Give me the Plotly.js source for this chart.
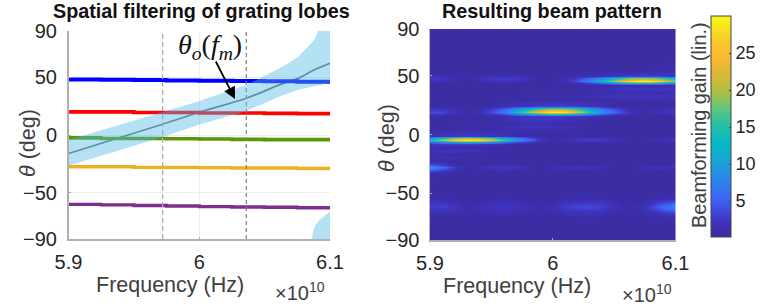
<!DOCTYPE html>
<html><head><meta charset="utf-8">
<script src="https://cdn.plot.ly/plotly-3.0.0.min.js"></script>
<style>html,body{margin:0;padding:0;background:#fff}#c{width:764px;height:306px}</style></head>
<body><div id="c"></div>
<script>
const stepFreq=[5.9,5.925,5.95,5.975,6,6.025,6.05,6.075,6.1];
const blueBeam=[48,47.8,47.6,47.2,47,46.8,46.5,46,46];
const redBeam=[20,20,19.5,19.5,19,19,18.7,18.5,18];
const greenBeam=[-2.5,-3,-3,-3.2,-3.5,-3.8,-4,-4,-4.7];
const orangeBeam=[-27.5,-27.5,-28,-28,-28.2,-28.5,-28.5,-29,-29.5];
const purpleBeam=[-60,-60.5,-61,-61.5,-62,-62.3,-62.5,-63,-63.2];
const centreFreq=[5.9,5.972,6,6.036,6.0628,6.0755,6.087,6.1];
const centreAngle=[-16,9.3,19.7,31.8,44,49,55.8,62];
const upperFreq=[5.9,5.972,5.999,6.0363,6.0628,6.0755,6.087,6.0895,6.0908,6.1];
const upperAngle=[-4.3,20,29,43.4,58.7,67.4,81,86,90,90];
const lowerFreq=[6.1,6.087,6.0755,6.0628,6.0363,5.999,5.972,5.9];
const lowerAngle=[45,42,39,34,20.8,8.7,-1.7,-26.6];
const wrapFreq=[6.086,6.0868,6.0885,6.0915,6.0947,6.1,6.1];
const wrapAngle=[-90,-85,-79,-74,-71,-66.5,-90];
const steerFreq=[5.972,6.036];
const fCols=[5.9,5.91,5.92,5.93,5.94,5.95,5.96,5.97,5.98,5.99,6,6.01,6.02,6.03,6.04,6.05,6.06,6.07,6.08,6.09,6.1];
const thetaRows=[-90,-76,-70,-66,-62,-58,-54,-44,-33,-30,-28,-26,-23,-20,-17,-14,-11,-8.5,-6.5,-4.5,-3,-1,1.5,4,7,10,13,15.5,17.5,19.5,21.5,24,27,30,33,36,39,42,44,46,48,50,52.5,55,60,65,72,80,90];
const gain=[
[.6,.6,.6,.6,.6,.6,.6,.6,.6,.6,.6,.6,.6,.6,.6,.6,.6,.6,.6,.6,.6],
[.7,.7,.7,.7,.7,.7,.7,.7,.7,.7,.7,.7,.7,.7,.7,.7,.7,.8,.9,.9,.9],
[.9,.9,.8,.7,.8,.9,.9,.9,.8,.7,.8,.9,.9,1,.9,.8,.7,.8,1,1.2,1.3],
[1.6,1.7,1.3,.8,1,1.4,1.6,1.4,1,.8,1,1.6,1.9,2,1.8,1.2,.8,1,1.8,2.8,3.6],
[3,3.2,2.4,1,1.6,2.4,2.6,2.4,1.6,1,1.6,2.9,3.5,3.7,3.2,2,1,1.4,3.2,5.8,8.2],
[2,2,1.5,.8,1.1,1.6,1.8,1.6,1.1,.8,1.1,1.9,2.3,2.4,2.1,1.3,.8,1,1.9,3.2,4.3],
[1,1,.9,.7,.8,.9,1,.9,.8,.7,.8,1,1.1,1.1,1,.8,.7,.8,.9,1.1,1.3],
[.7,.7,.7,.7,.7,.7,.7,.7,.7,.7,.7,.7,.7,.7,.7,.7,.7,.7,.7,.7,.7],
[1.2,1,.8,.7,.7,.7,.8,.7,.7,.7,.7,.7,.7,.7,.7,.7,.7,.7,.7,.7,.7],
[5,3.2,1.4,.7,.9,1.3,1.5,1.3,.9,.7,.9,1.1,1.2,1.1,.9,.7,.7,.8,1.1,1.2,1.1],
[9.5,6,2.6,1,1.5,2.4,2.8,2.5,1.5,1,1.5,2.2,2.4,2.2,1.5,1,.9,1.4,2,2.2,2],
[4.5,3,1.3,.7,.9,1.2,1.4,1.2,.9,.7,.9,1.1,1.2,1.1,.9,.7,.7,.8,1,1.1,1],
[.9,.9,.8,.7,.7,.7,.7,.7,.7,.7,.7,.7,.7,.7,.7,.7,.7,.7,.7,.7,.7],
[1.6,1.6,1.5,1.4,1.2,.9,.7,.7,.7,.7,.7,.7,.7,.7,.7,.7,.7,.7,.7,.7,.7],
[.8,.9,.9,.9,.8,.7,.7,.7,.7,.7,.7,.7,.7,.7,.7,.7,.7,.7,.7,.7,.7],
[1.8,1.9,1.9,1.8,1.6,1.1,.8,.7,.7,.7,.7,.7,.7,.7,.7,.7,.7,.7,.7,.7,.7],
[.8,1,1,1,.9,.8,.7,.7,.7,.7,.7,.7,.7,.7,.7,.7,.7,.7,.7,.7,.7],
[2.4,2.8,3,3,2.8,2.2,1.3,.9,.7,.7,.7,.7,.7,.7,.7,.7,.7,.7,.7,.7,.7],
[5,7.5,10,11,10.5,9,6,3.8,2.4,1.3,.8,.8,1,1.1,1,.8,.7,.7,.8,.9,1],
[13,20,27,29.5,28,24,16,10,6,2.6,1,1.5,2.6,3.2,3,2,1,.9,1.5,1.9,2],
[9,14,19,21,20,17,11.5,7.5,4.5,2,.9,1.2,2,2.4,2.2,1.5,.9,.8,1.2,1.5,1.6],
[1.6,2.2,2.6,2.8,2.7,2.3,1.6,1.1,.8,.7,.7,.7,.8,.9,.8,.7,.7,.7,.7,.8,.8],
[1.5,1.9,2.2,2.3,2.2,1.9,1.4,1,.8,.7,.7,.7,.7,.7,.7,.7,.7,.7,.7,.7,.7],
[.7,.8,.9,.9,.9,.9,1.2,1.3,1.3,1.2,1.1,1,.9,.7,.7,.7,.7,.7,.7,.7,.7],
[.8,.9,1,1,1,1,1.5,1.9,2.1,2.1,2,1.7,1.3,.9,.7,.7,.7,.7,.7,.7,.7],
[.7,.7,.7,.7,.7,.8,.9,1,1,1,1,.9,.8,.7,.7,.7,.7,.7,.7,.7,.7],
[.7,.7,.7,.8,.8,1,1.7,2.2,2.5,2.6,2.5,2.2,1.7,1.1,.8,.7,.7,.7,.7,.7,.7],
[1,.9,.8,.7,.7,1,1.3,1.8,2.2,2.6,2.8,2.7,2.3,1.7,1.2,.9,.7,.7,.7,.7,.8],
[2.4,2.2,1.4,.8,1.2,2.2,3.8,6.5,9.5,12.5,15,14,11.5,7.5,4.8,3,1.8,.9,.9,1.3,1.5],
[3.8,3.5,2,1,1.5,3.8,7,13,19,25,29.5,28,23,15,9,5.5,3,1.2,1.3,2.1,2.6],
[2.6,2.4,1.5,.8,1.2,2.6,5,9,13,17.5,20.5,19.5,16,10.5,6.5,4,2.2,1,1,1.5,1.9],
[.8,.8,.7,.7,.7,1,1.5,2,2.5,3,3.3,3.2,2.8,2.2,1.5,1,.8,.7,.7,.8,.8],
[.7,.7,.7,.7,.7,.8,1.1,1.5,1.8,2,2.2,2.1,1.9,1.6,1.1,.8,.7,.7,.7,.7,.7],
[.7,.7,.7,.7,.7,.7,.8,.8,.8,.9,.9,.9,.9,.9,1,1.1,1.2,1.3,1.3,1.2,1.2],
[.7,.7,.7,.7,.7,.7,.8,1.1,1.3,1.3,1.3,1.3,1.4,1.6,1.9,2.1,2.3,2.4,2.3,2.2,2],
[.7,.7,.7,.7,.7,.7,.7,.7,.7,.7,.8,.8,.8,.9,1.1,1.1,1.2,1.2,1.2,1.1,1],
[.7,.7,.7,.7,.7,.7,.7,.7,.7,.7,.7,.9,1,1.2,1.6,2,2.4,2.6,2.6,2.4,2.2],
[.7,.7,.7,.7,.7,.7,.7,.7,.7,.7,.7,.7,.8,.8,.9,1,1.1,1.2,1.2,1.1,1],
[.8,.8,.7,.7,.8,.9,1,.9,.8,.7,.8,1,1.7,3,5,7.5,10,11.5,11,9.5,7],
[2,1.8,1.1,.8,1.3,1.9,2.2,2,1.3,.8,.9,1.6,4,8,13,19,26,29.5,29,24,18],
[3,2.6,1.4,.9,1.8,2.8,3,2.8,1.8,.9,.9,1.3,2.8,5.5,8.5,12,16.5,18.5,18,15,11],
[1.6,1.4,1,.7,1.1,1.5,1.6,1.5,1.1,.7,.8,.9,1.1,1.4,1.8,2.4,3,3.2,3.2,2.8,2.4],
[.7,.7,.7,.7,.7,.7,.7,.7,.7,.7,.7,.7,.8,1,1.2,1.3,1.5,1.7,1.8,1.8,1.8],
[.7,.7,.7,.7,.7,.7,.7,.7,.7,.7,.7,.7,.7,.7,.7,.8,.8,.8,.9,.9,.9],
[.7,.7,.7,.7,.7,.7,.7,.7,.7,.7,.7,.7,.7,.7,.7,.7,.7,.8,.9,1,1.1],
[.7,.7,.7,.7,.7,.7,.7,.7,.7,.7,.7,.7,.7,.7,.7,.7,.7,.7,.8,.8,.9],
[.7,.7,.7,.7,.7,.7,.7,.7,.7,.7,.7,.7,.7,.7,.7,.7,.7,.7,.7,.7,.8],
[.7,.7,.7,.7,.7,.7,.7,.7,.7,.7,.7,.7,.7,.7,.7,.7,.7,.7,.7,.7,.7],
[.7,.7,.7,.7,.7,.7,.7,.7,.7,.7,.7,.7,.7,.7,.7,.7,.7,.7,.7,.7,.7]
];
const parula=[[0,'#3a2a98'],[.08,'#4035c5'],[.16,'#4060f5'],[.25,'#2f82ee'],[.33,'#1aa0d8'],[.42,'#08b8c8'],[.5,'#20c0a8'],[.58,'#60c480'],[.66,'#b0c040'],[.74,'#dcb838'],[.82,'#fdb830'],[.9,'#f8d028'],[1,'#f8fa14']];
const angleTicks=[-90,-50,0,50,90];
const freqTicks=[5.9,6,6.1];
const freqLabels=['5.9','6','6.1'];
const gainTicks=[5,10,15,20,25];

const W=764,H=306;
const ink='#262626', soft='#404040', FF='"Liberation Sans",Arial,sans-serif';
function beam(y,c,w){return {type:'scatter',mode:'lines',x:stepFreq,y:y,xaxis:'x',yaxis:'y',line:{color:c,width:w,shape:'hv'},hoverinfo:'skip',showlegend:false};}
function xax(dom,anchor){return {domain:[dom[0]/W,dom[1]/W],range:[5.9,6.1],anchor:anchor,tickmode:'array',tickvals:freqTicks,ticktext:freqLabels,ticklabelstandoff:4,
 tickfont:{family:FF,size:20,color:ink},ticks:'inside',ticklen:2,tickcolor:'#aaa',showgrid:true,gridcolor:'#eeeeee',zeroline:false,showline:true,linecolor:'#b0b0b0',linewidth:1.5};}
function yax(dom,anchor,pad){return {domain:[1-dom[1]/H,1-dom[0]/H],range:[-90,90],anchor:anchor,tickmode:'array',tickvals:angleTicks,ticklabelstandoff:pad,
 tickfont:{family:FF,size:20,color:ink},ticks:'inside',ticklen:2,tickcolor:'#aaa',showgrid:true,gridcolor:'#eeeeee',zeroline:false,showline:true,linecolor:'#b0b0b0',linewidth:1.5};}
const traces=[
 {type:'scatter',mode:'lines',x:centreFreq,y:centreAngle,xaxis:'x',yaxis:'y',line:{color:'#707070',width:1.8,shape:'spline'},hoverinfo:'skip',showlegend:false},
 beam(blueBeam,'#0000ff',4),beam(redBeam,'#ff0000',3.6),beam(greenBeam,'#5b9607',3.6),beam(orangeBeam,'#edb120',3.4),beam(purpleBeam,'#7e2f8e',3.4),
 {type:'scatter',mode:'lines',x:[steerFreq[0],steerFreq[0]],y:[-90,90],xaxis:'x',yaxis:'y',line:{color:'#b0b0b0',width:1.3,dash:'5px,3px'},hoverinfo:'skip',showlegend:false},
 {type:'scatter',mode:'lines',x:[steerFreq[1],steerFreq[1]],y:[-90,90],xaxis:'x',yaxis:'y',line:{color:'#808080',width:1.2,dash:'4px,3px'},hoverinfo:'skip',showlegend:false},
 {type:'scatter',mode:'lines',x:upperFreq.concat(lowerFreq),y:upperAngle.concat(lowerAngle),xaxis:'x3',yaxis:'y3',fill:'toself',fillcolor:'rgba(84,186,232,0.43)',line:{width:0},hoverinfo:'skip',showlegend:false},
 {type:'scatter',mode:'lines',x:wrapFreq,y:wrapAngle,xaxis:'x3',yaxis:'y3',fill:'toself',fillcolor:'rgba(84,186,232,0.43)',line:{width:0},hoverinfo:'skip',showlegend:false},
 {type:'heatmap',x:fCols,y:thetaRows,z:gain,xaxis:'x2',yaxis:'y2',zsmooth:'best',colorscale:parula,zmin:0.15,zmax:30,hoverinfo:'skip',
  colorbar:{x:711/W,xanchor:'left',xpad:0,y:1-16/H,yanchor:'top',ypad:0,len:221/H,lenmode:'fraction',thickness:20,thicknessmode:'pixels',outlinecolor:'#444',outlinewidth:1,
   tickmode:'array',tickvals:gainTicks,ticks:'inside',ticklen:2,tickcolor:'#444',tickfont:{family:FF,size:18,color:ink}}}
];
function paperText(t,x,y,size,extra,color){return Object.assign({text:t,xref:'paper',yref:'paper',x:x/W,y:1-y/H,xanchor:'center',yanchor:'middle',showarrow:false,font:{family:FF,size:size,color:color||ink}},extra||{});}
const layout={width:W,height:H,margin:{l:0,r:0,t:0,b:0},paper_bgcolor:'#fff',plot_bgcolor:'#fff',showlegend:false,
 xaxis:xax([68.5,330],'y'),yaxis:yax([31,239],'x',6),xaxis2:xax([430,675.5],'y2'),yaxis2:yax([29,240],'x2',5),
 xaxis3:{domain:[68.5/W,330/W],range:[5.9,6.1],overlaying:'x',anchor:'y3',visible:false},
 yaxis3:{domain:[1-239/H,1-31/H],range:[-90,90],overlaying:'y',anchor:'x3',visible:false},
 annotations:[
  paperText('<b>Spatial filtering of grating lobes</b>',202,11,19.8,null,'#111'),
  paperText('<b>Resulting beam pattern</b>',552,11,19.8,null,'#111'),
  paperText('Frequency (Hz)',170,285,21.5,null,soft),
  paperText('Frequency (Hz)',517,286,21.5,null,soft),
  paperText('<i>θ</i> (deg)',28,143,21.5,{textangle:-90},soft),
  paperText('<i>θ</i> (deg)',387,138,21.5,{textangle:-90},soft),
  paperText('×10<sup>10</sup>',300,291,20,null,soft),
  paperText('×10<sup>10</sup>',647,293,20,null,soft),
  paperText('Beamforming gain (lin.)',699,125,19.9,{textangle:-90},soft),
  {text:'<i>θ<sub>o</sub></i>(<i>f<sub>m</sub></i>)',xref:'paper',yref:'paper',x:210/W,y:1-46/H,xanchor:'center',yanchor:'middle',showarrow:false,font:{family:'"Liberation Serif",serif',size:28,color:'#111'}},
  {xref:'paper',yref:'paper',x:235/W,y:1-99/H,ax:215/W,ay:1-60/H,axref:'paper',ayref:'paper',text:'',showarrow:true,arrowhead:2,arrowsize:1.4,arrowwidth:1.7,arrowcolor:'#000'}
 ]};
Plotly.newPlot('c',traces,layout,{staticPlot:true,displayModeBar:false});
</script></body></html>
